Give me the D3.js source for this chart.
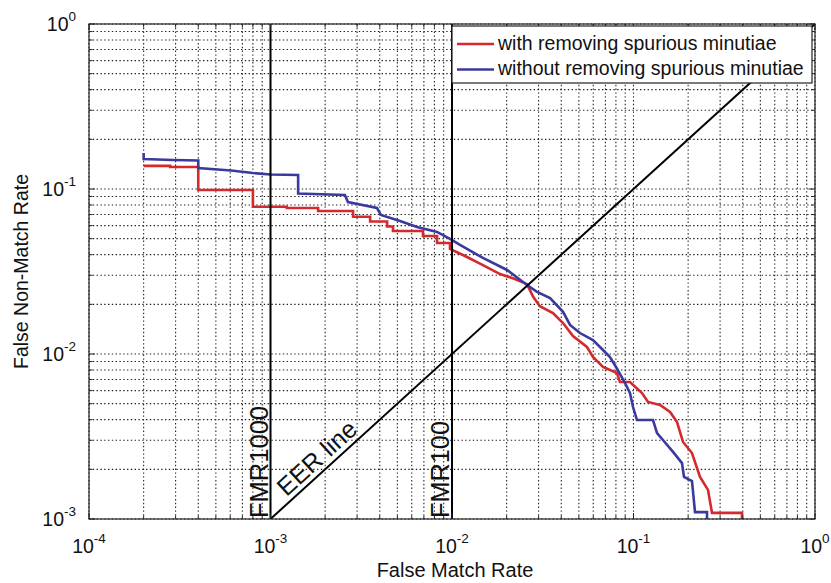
<!DOCTYPE html>
<html><head><meta charset="utf-8">
<script src="https://cdn.jsdelivr.net/npm/d3@7"></script>
<style>body{margin:0;background:#fff}svg{display:block}text{font-family:"Liberation Sans",Arial,Helvetica,sans-serif;fill:#111}</style>
</head><body><svg id="c" width="831" height="583"></svg>
<script>
const xTickVals = [1e-4, 1e-3, 1e-2, 1e-1, 1e0];
const xTickExp = ["-4", "-3", "-2", "-1", "0"];
const yTickVals = [1e-3, 1e-2, 1e-1, 1e0];
const yTickExp = ["-3", "-2", "-1", "0"];
const seriesNames = ["with removing spurious minutiae", "without removing spurious minutiae"];
const seriesColors = ["#d42a2e", "#3a3a9e"];
// trace vertices (False Match Rate, False Non-Match Rate)
const redFMR = [2.0e-4, 2.8e-4, 2.8e-4, 4.0e-4, 4.0e-4, 8.0e-4, 8.0e-4, 1.23e-3, 1.23e-3, 1.83e-3, 1.83e-3, 2.85e-3, 2.85e-3, 3.54e-3, 3.54e-3, 4.39e-3, 4.39e-3, 4.73e-3, 4.73e-3, 6.92e-3, 6.92e-3, 8.27e-3, 8.27e-3, 9.75e-3, 9.75e-3, 1.21e-2, 1.48e-2, 1.84e-2, 2.22e-2, 2.59e-2, 2.80e-2, 3.05e-2, 3.60e-2, 4.09e-2, 4.64e-2, 5.54e-2, 5.98e-2, 6.79e-2, 8.11e-2, 8.42e-2, 9.56e-2, 0.1114, 0.1202, 0.14, 0.159, 0.1737, 0.1874, 0.21, 0.2325, 0.2573, 0.2707, 0.396, 0.396];
const redFNMR = [0.138, 0.138, 0.136, 0.136, 0.0986, 0.0986, 0.0781, 0.0781, 0.0767, 0.0767, 0.0736, 0.0736, 0.0679, 0.0679, 0.0635, 0.0635, 0.0593, 0.0593, 0.0556, 0.0556, 0.0519, 0.0519, 0.0471, 0.0471, 0.0433, 0.0387, 0.0346, 0.0305, 0.0285, 0.0265, 0.0222, 0.0195, 0.0177, 0.0154, 0.01285, 0.01103, 0.00959, 0.00834, 0.00767, 0.00676, 0.00676, 0.0058, 0.00512, 0.00491, 0.00445, 0.00387, 0.00293, 0.00251, 0.0018, 0.0015, 0.00109, 0.00109, 0.001];
const blueFMR = [2.0e-4, 2.0e-4, 2.9e-4, 4.0e-4, 4.0e-4, 6.06e-4, 8.0e-4, 1.0e-3, 1.42e-3, 1.42e-3, 2.57e-3, 2.67e-3, 3.86e-3, 4.06e-3, 5.17e-3, 6.42e-3, 8.27e-3, 9.75e-3, 1.107e-2, 1.48e-2, 2.01e-2, 2.59e-2, 2.94e-2, 3.47e-2, 4.09e-2, 4.47e-2, 5.07e-2, 5.98e-2, 6.79e-2, 7.42e-2, 8.01e-2, 8.42e-2, 8.98e-2, 9.56e-2, 9.94e-2, 0.1045, 0.1281, 0.1348, 0.1453, 0.1651, 0.185, 0.1898, 0.21, 0.2182, 0.2541, 0.2541];
const blueFNMR = [0.1653, 0.152, 0.1499, 0.1488, 0.1341, 0.1295, 0.125, 0.1224, 0.1216, 0.0939, 0.0919, 0.0834, 0.0767, 0.0696, 0.064, 0.0588, 0.0549, 0.0498, 0.0458, 0.0382, 0.0323, 0.0262, 0.0238, 0.0218, 0.018, 0.015, 0.0134, 0.01216, 0.01057, 0.00959, 0.00834, 0.00757, 0.00667, 0.0058, 0.00477, 0.00398, 0.00398, 0.00332, 0.00301, 0.00255, 0.00218, 0.0018, 0.0017, 0.0011, 0.0011, 0.001];
const fmrLines = [1e-3, 1e-2];
const fmrLabels = ["FMR1000", "FMR100"];
const eerLabel = "EER line";
const xTitle = "False Match Rate";
const yTitle = "False Non-Match Rate";

const FONT = "'Liberation Sans', Arial, Helvetica, sans-serif";
const svg = d3.select("#c");
const L = 89, R = 815, T = 24, B = 519;
const x = d3.scaleLog().domain([1e-4, 1]).range([L, R]);
const y = d3.scaleLog().domain([1e-3, 1]).range([B, T]);

svg.append("rect").attr("width", 831).attr("height", 583).attr("fill", "#fff");
svg.append("defs").append("clipPath").attr("id", "clip").append("rect")
  .attr("x", L).attr("y", T - 1).attr("width", R - L).attr("height", B - T + 1);

// grid
const g = svg.append("g");
const xg = x.ticks(), yg = y.ticks();
g.selectAll("line.gx").data(xg).join("line")
  .attr("x1", d => x(d)).attr("x2", d => x(d)).attr("y1", T).attr("y2", B)
  .attr("stroke", "#222").attr("stroke-width", 1.1).attr("stroke-dasharray", "1.4,2.4");
g.selectAll("line.gy").data(yg).join("line")
  .attr("y1", d => y(d)).attr("y2", d => y(d)).attr("x1", L).attr("x2", R)
  .attr("stroke", "#222").attr("stroke-width", 1.1).attr("stroke-dasharray", "1.4,2.4");

// curves
const plot = svg.append("g").attr("clip-path", "url(#clip)");
const line = d3.line().x(d => x(d[0])).y(d => y(d[1]));
const series = [d3.zip(redFMR, redFNMR), d3.zip(blueFMR, blueFNMR)];
series.forEach((s, i) => {
  plot.append("path").attr("d", line(s)).attr("fill", "none")
    .attr("stroke", seriesColors[i]).attr("stroke-width", 2.6).attr("stroke-linejoin", "miter");
});

// reference lines
fmrLines.forEach(v => {
  plot.append("line").attr("x1", x(v)).attr("x2", x(v)).attr("y1", T).attr("y2", B)
    .attr("stroke", "#000").attr("stroke-width", 2);
});
plot.append("line").attr("x1", x(1e-3)).attr("y1", y(1e-3)).attr("x2", x(1)).attr("y2", y(1))
  .attr("stroke", "#000").attr("stroke-width", 2);

// axis box and ticks
svg.append("rect").attr("x", L).attr("y", T).attr("width", R - L).attr("height", B - T)
  .attr("fill", "none").attr("stroke", "#222").attr("stroke-width", 1.2);
const tk = svg.append("g").attr("stroke", "#222").attr("stroke-width", 1);
xg.forEach(d => {
  const len = xTickVals.includes(d) ? 6 : 3.5;
  tk.append("line").attr("x1", x(d)).attr("x2", x(d)).attr("y1", B).attr("y2", B - len);
  tk.append("line").attr("x1", x(d)).attr("x2", x(d)).attr("y1", T).attr("y2", T + len);
});
yg.forEach(d => {
  const len = yTickVals.includes(d) ? 6 : 3.5;
  tk.append("line").attr("y1", y(d)).attr("y2", y(d)).attr("x1", L).attr("x2", L + len);
  tk.append("line").attr("y1", y(d)).attr("y2", y(d)).attr("x1", R).attr("x2", R - len);
});

// tick labels
xTickVals.forEach((v, i) => {
  const t = svg.append("text").attr("x", x(v)).attr("y", 553).attr("text-anchor", "middle")
    .attr("font-family", FONT).attr("font-size", 19.5);
  t.append("tspan").text("10");
  t.append("tspan").attr("dy", -10).attr("font-size", 13.5).text(xTickExp[i]);
});
yTickVals.forEach((v, i) => {
  const t = svg.append("text").attr("x", 76).attr("y", y(v) + 7).attr("text-anchor", "end")
    .attr("font-family", FONT).attr("font-size", 19.5);
  t.append("tspan").text("10");
  t.append("tspan").attr("dy", -10).attr("font-size", 13.5).text(yTickExp[i]);
});

// axis titles
svg.append("text").attr("x", (L + R) / 2 + 3).attr("y", 577).attr("text-anchor", "middle")
  .attr("font-family", FONT).attr("font-size", 20).text(xTitle);
svg.append("text").attr("transform", `translate(28,${(T + B) / 2}) rotate(-90)`)
  .attr("text-anchor", "middle").attr("font-family", FONT).attr("font-size", 19.5).text(yTitle);

// annotation labels
const fmrLen = [112, 97];
fmrLines.forEach((v, i) => {
  svg.append("text").attr("transform", `translate(${x(v) - 3},${B - 1}) rotate(-90)`)
    .attr("font-family", FONT).attr("font-size", 25)
    .attr("textLength", fmrLen[i]).attr("lengthAdjust", "spacingAndGlyphs").text(fmrLabels[i]);
});
const ang = Math.atan2(y(1e-3) - y(1), x(1) - x(1e-3)) * 180 / Math.PI;
const ex = x(1.28e-3) - 3.5, ey = y(1.28e-3) - 4;
svg.append("text").attr("transform", `translate(${ex},${ey}) rotate(${-ang})`)
  .attr("font-family", FONT).attr("font-size", 25)
  .attr("textLength", 98).attr("lengthAdjust", "spacingAndGlyphs").text(eerLabel);

// legend
const lg = svg.append("g");
lg.append("rect").attr("x", 452).attr("y", 26).attr("width", 360).attr("height", 57)
  .attr("fill", "#fff").attr("stroke", "#222").attr("stroke-width", 1.2);
seriesNames.forEach((n, i) => {
  const yy = 44 + i * 25.5;
  lg.append("line").attr("x1", 457).attr("x2", 494).attr("y1", yy).attr("y2", yy)
    .attr("stroke", seriesColors[i]).attr("stroke-width", 2.6);
  lg.append("text").attr("x", 498).attr("y", yy + 5.5).attr("font-family", FONT)
    .attr("font-size", 19.5).text(n);
});
</script></body></html>
